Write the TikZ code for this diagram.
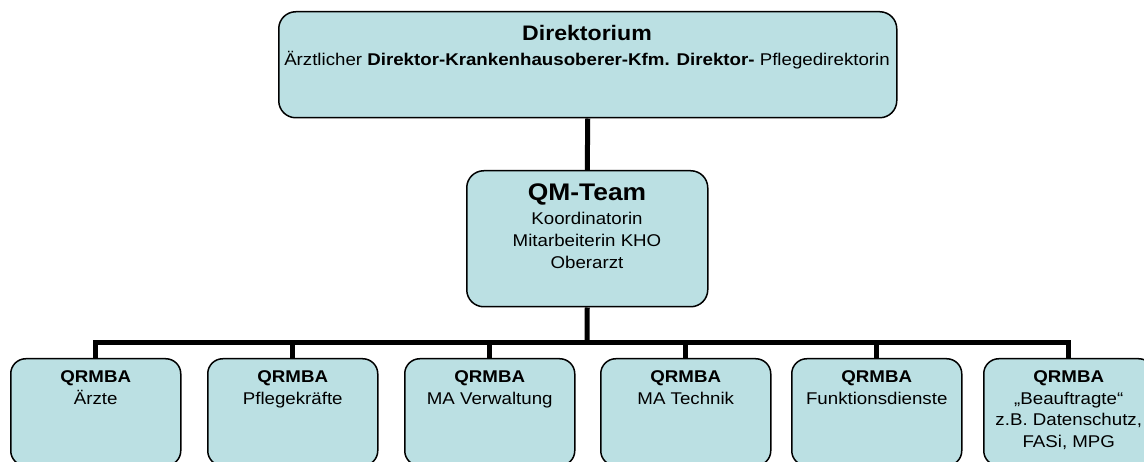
\documentclass[tikz,border=0pt]{standalone}
\usepackage{fontspec}
\setmainfont{Liberation Sans}[FakeStretch=1.1]
\definecolor{boxfill}{RGB}{187,224,227}
\tikzset{
  box/.style={draw=black, line width=1.5pt, fill=boxfill, rounded corners=17pt, rectangle, anchor=north west, inner sep=0pt},
  conn/.style={draw=black, line width=5pt, line join=miter},
  txt/.style={anchor=north, inner sep=0pt, align=center, font=\fontsize{17}{21.7}\selectfont}
}
\begin{document}
\begin{tikzpicture}[x=1pt,y=-1pt]
\useasboundingbox (0,0) rectangle (1144,462);
% boxes
\node[box, minimum width=618pt, minimum height=106pt] (dir) at (278,11) {};
\node[box, minimum width=241pt, minimum height=136pt] (qm) at (466,170) {};
\node[box, rounded corners=15pt, minimum width=170pt, minimum height=107pt] (b1) at (10,358) {};
\node[box, rounded corners=15pt, minimum width=170pt, minimum height=107pt] (b2) at (207,358) {};
\node[box, rounded corners=15pt, minimum width=170pt, minimum height=107pt] (b3) at (404,358) {};
\node[box, rounded corners=15pt, minimum width=170pt, minimum height=107pt] (b4) at (600,358) {};
\node[box, rounded corners=15pt, minimum width=170pt, minimum height=107pt] (b5) at (791,358) {};
\node[box, rounded corners=15pt, minimum width=170pt, minimum height=107pt] (b6) at (983,358) {};
% texts
\node[txt] (tdir) at (587,25) {{\fontsize{21}{24}\selectfont\bfseries Direktorium}\\[3pt]
  Ärztlicher \textbf{Direktor-Krankenhausoberer-Kfm. Direktor-} Pflegedirektorin};
\node[txt] (tqm) at (587,184) {{\fontsize{24}{26}\selectfont\bfseries QM-Team}\\[2pt]
  Koordinatorin\\Mitarbeiterin KHO\\Oberarzt};
\node[txt] (t1) at (b1.north |- 0,370.5) {\textbf{QRMBA}\\Ärzte};
\node[txt] (t2) at (b2.north |- 0,370.5) {\textbf{QRMBA}\\Pflegekräfte};
\node[txt] (t3) at (b3.north |- 0,370.5) {\textbf{QRMBA}\\MA Verwaltung};
\node[txt] (t4) at (b4.north |- 0,370.5) {\textbf{QRMBA}\\MA Technik};
\node[txt] (t5) at (b5.north |- 0,370.5) {\textbf{QRMBA}\\Funktionsdienste};
\node[txt] (t6) at (b6.north |- 0,370.5) {\textbf{QRMBA}\\„Beauftragte“\\z.B. Datenschutz,\\FASi, MPG};
% connectors
\coordinate (bar) at (587,343);
\draw[conn] (dir.south) -- (qm.north);
\draw[conn] (qm.south) -- (bar);
\draw[conn] (b1.north) |- (b6.north |- bar) -- (b6.north);
\draw[conn] (b2.north) -- (b2.north |- bar);
\draw[conn] (b3.north) -- (b3.north |- bar);
\draw[conn] (b4.north) -- (b4.north |- bar);
\draw[conn] (b5.north) -- (b5.north |- bar);
\end{tikzpicture}
\end{document}
